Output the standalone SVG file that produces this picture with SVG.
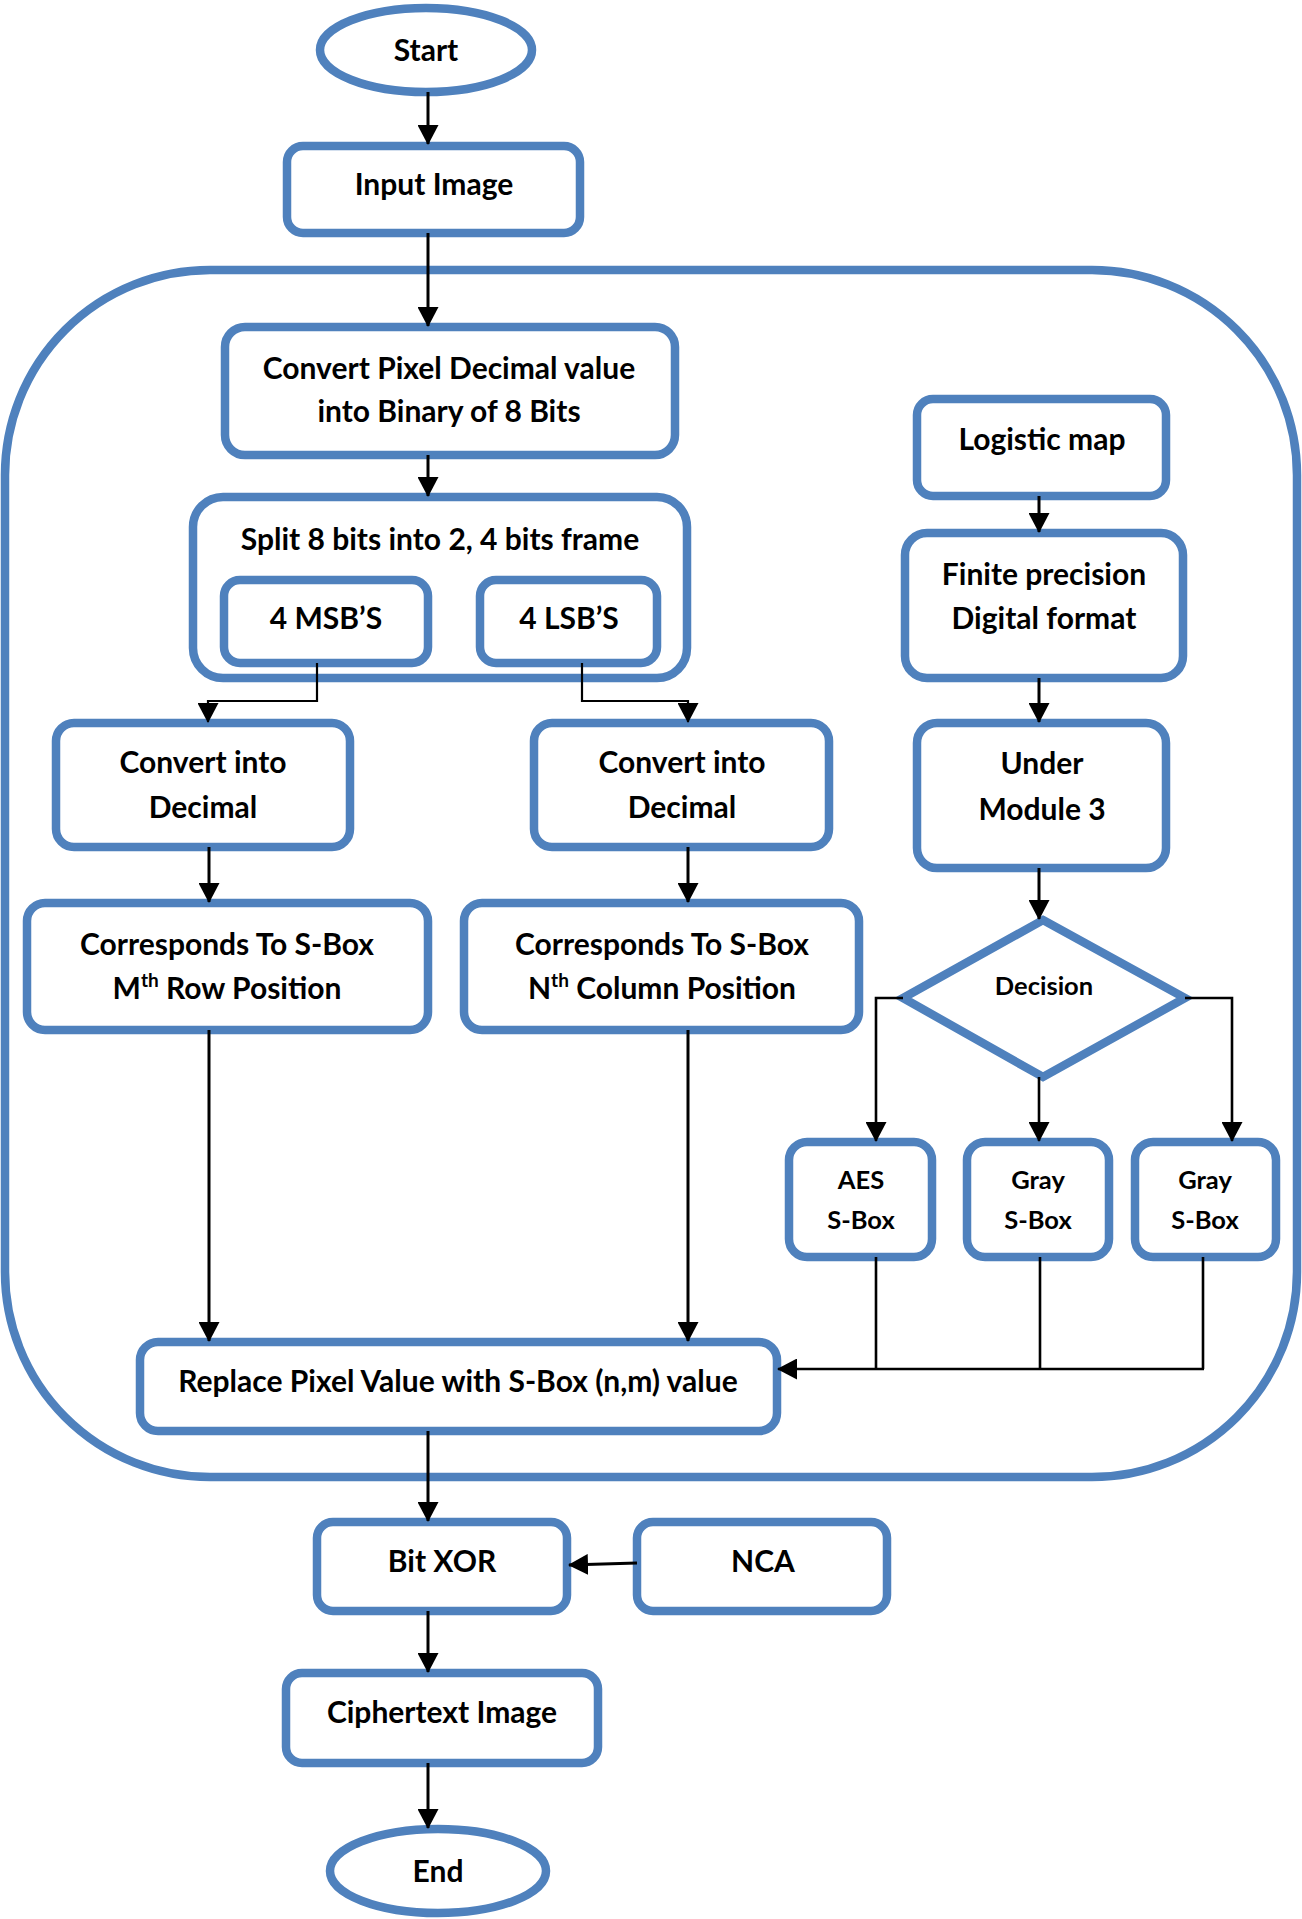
<svg xmlns="http://www.w3.org/2000/svg" width="1302" height="1919" viewBox="0 0 1302 1919">
<style>
.box{fill:#fff;stroke:#4F81BD;stroke-width:8.5}
.frame{fill:none;stroke:#4F81BD;stroke-width:8.5}
.t{font-family:Lato,"Liberation Sans",sans-serif;font-weight:bold;font-size:30px;fill:#000;text-anchor:middle}
.s{font-size:25.5px}
.c{fill:none;stroke:#000;stroke-width:3}
.c2{fill:none;stroke:#000;stroke-width:2.2}
.c3{fill:none;stroke:#000;stroke-width:2.6}
</style>
<defs>
<marker id="ah" viewBox="0 0 20 21" refX="19" refY="10.5" markerWidth="20" markerHeight="21" markerUnits="userSpaceOnUse" orient="auto">
<path d="M0,0 L20,10.5 L0,21 z" fill="#000"/>
</marker>
</defs>
<rect width="1302" height="1919" fill="#fff"/>
<rect id="container" class="frame" x="5" y="270" width="1292" height="1207" rx="205" ry="205"/>

<g id="start"><ellipse class="box" cx="426" cy="50" rx="106" ry="42"/><text class="t" x="426" y="61">Start</text></g>
<g id="input"><rect class="box" x="287" y="146" width="293" height="87" rx="16"/><text class="t" x="434" y="195">Input Image</text></g>
<g id="convert-pixel"><rect class="box" x="225" y="327" width="450" height="128" rx="20"/><text class="t" x="449" y="379">Convert Pixel Decimal value</text><text class="t" x="449" y="422">into Binary of 8 Bits</text></g>
<g id="split"><rect class="box" x="193" y="497" width="494" height="181" rx="30"/><text class="t" x="440" y="550">Split 8 bits into 2, 4 bits frame</text></g>
<g id="msb"><rect class="box" x="224" y="580" width="204" height="83" rx="16"/><text class="t" x="326" y="629">4 MSB’S</text></g>
<g id="lsb"><rect class="box" x="480" y="580" width="177" height="83" rx="16"/><text class="t" x="569" y="629">4 LSB’S</text></g>
<g id="dec-left"><rect class="box" x="56" y="723" width="294" height="124" rx="18"/><text class="t" x="203" y="773">Convert into</text><text class="t" x="203" y="818">Decimal</text></g>
<g id="dec-right"><rect class="box" x="534" y="723" width="295" height="124" rx="18"/><text class="t" x="682" y="773">Convert into</text><text class="t" x="682" y="818">Decimal</text></g>
<g id="row"><rect class="box" x="27" y="903" width="401" height="127" rx="18"/><text class="t" x="227" y="955">Corresponds To S-Box</text><text class="t" x="227" y="999">M<tspan dy="-12" font-size="19">th</tspan><tspan dy="12"> Row Position</tspan></text></g>
<g id="col"><rect class="box" x="464" y="903" width="395" height="127" rx="18"/><text class="t" x="662" y="955">Corresponds To S-Box</text><text class="t" x="662" y="999">N<tspan dy="-12" font-size="19">th</tspan><tspan dy="12"> Column Position</tspan></text></g>
<g id="logistic"><rect class="box" x="917" y="399" width="249" height="97" rx="16"/><text class="t" x="1042" y="450">Logistic map</text></g>
<g id="finite"><rect class="box" x="905" y="533" width="278" height="145" rx="22"/><text class="t" x="1044" y="585">Finite precision</text><text class="t" x="1044" y="629">Digital format</text></g>
<g id="under"><rect class="box" x="917" y="723" width="249" height="145" rx="20"/><text class="t" x="1042" y="774">Under</text><text class="t" x="1042" y="820">Module 3</text></g>
<g id="decision"><polygon class="box" points="1043,920 1185,998 1043,1077 903,998"/><text class="t s" x="1044" y="995">Decision</text></g>
<g id="aes"><rect class="box" x="789" y="1142" width="143" height="115" rx="18"/><text class="t s" x="861" y="1189">AES</text><text class="t s" x="861" y="1229">S-Box</text></g>
<g id="gray1"><rect class="box" x="967" y="1142" width="142" height="115" rx="18"/><text class="t s" x="1038" y="1189">Gray</text><text class="t s" x="1038" y="1229">S-Box</text></g>
<g id="gray2"><rect class="box" x="1135" y="1142" width="141" height="115" rx="18"/><text class="t s" x="1205" y="1189">Gray</text><text class="t s" x="1205" y="1229">S-Box</text></g>
<g id="replace"><rect class="box" x="140" y="1342" width="637" height="89" rx="18"/><text class="t" x="458" y="1392">Replace Pixel Value with S-Box (n,m) value</text></g>
<g id="xor"><rect class="box" x="317" y="1522" width="250" height="89" rx="16"/><text class="t" x="442" y="1572">Bit XOR</text></g>
<g id="nca"><rect class="box" x="637" y="1522" width="250" height="89" rx="16"/><text class="t" x="763" y="1572">NCA</text></g>
<g id="cipher"><rect class="box" x="286" y="1673" width="312" height="90" rx="16"/><text class="t" x="442" y="1723">Ciphertext Image</text></g>
<g id="end"><ellipse class="box" cx="438" cy="1871" rx="108" ry="42"/><text class="t" x="438" y="1882">End</text></g>

<g id="connectors">
<path class="c" d="M428,92 V144" marker-end="url(#ah)"/>
<path class="c" d="M428,233 V326" marker-end="url(#ah)"/>
<path class="c" d="M428,455 V496" marker-end="url(#ah)"/>
<path class="c2" d="M317,663 V701 H208 V722" marker-end="url(#ah)"/>
<path class="c2" d="M582,663 V701 H688 V722" marker-end="url(#ah)"/>
<path class="c" d="M209,847 V902" marker-end="url(#ah)"/>
<path class="c" d="M688,847 V902" marker-end="url(#ah)"/>
<path class="c" d="M209,1030 V1341" marker-end="url(#ah)"/>
<path class="c" d="M688,1030 V1341" marker-end="url(#ah)"/>
<path class="c" d="M1039,496 V532" marker-end="url(#ah)"/>
<path class="c" d="M1039,678 V722" marker-end="url(#ah)"/>
<path class="c" d="M1039,868 V919" marker-end="url(#ah)"/>
<path class="c3" d="M903,998 H876 V1141" marker-end="url(#ah)"/>
<path class="c3" d="M1039,1077 V1141" marker-end="url(#ah)"/>
<path class="c3" d="M1185,998 H1232 V1141" marker-end="url(#ah)"/>
<path class="c3" d="M876,1257 V1369 M1040,1257 V1369 M1203,1257 V1369"/>
<path class="c3" d="M1204,1369 H778" marker-end="url(#ah)"/>
<path class="c" d="M428,1431 V1521" marker-end="url(#ah)"/>
<path class="c" d="M637,1563 L569,1565" marker-end="url(#ah)"/>
<path class="c" d="M428,1611 V1672" marker-end="url(#ah)"/>
<path class="c" d="M428,1763 V1828" marker-end="url(#ah)"/>
</g>
</svg>
